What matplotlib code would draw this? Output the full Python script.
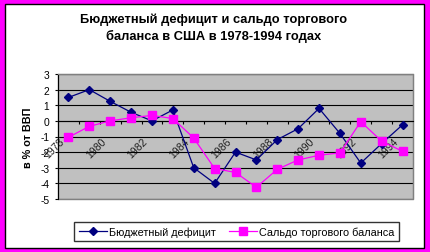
import matplotlib
matplotlib.use('Agg')
import matplotlib.pyplot as plt
from matplotlib.patches import Rectangle
from matplotlib.transforms import ScaledTranslation

plt.rcParams['font.family'] = ['Liberation Sans', 'DejaVu Sans']

years = list(range(1978, 1995))
budget_deficit = [1.5, 2.0, 1.25, 0.55, 0.0, 0.7, -3.0, -4.0, -2.0, -2.5,
                  -1.2, -0.5, 0.8, -0.8, -2.7, -1.45, -0.25]
trade_balance = [-1.05, -0.35, 0.0, 0.2, 0.35, 0.15, -1.1, -3.05, -3.3, -4.25,
                 -3.1, -2.5, -2.2, -2.05, -0.05, -1.3, -1.95]
label_years = list(range(1978, 1995, 2))
y_ticks = list(range(-5, 4))

W, H = 430, 253
fig = plt.figure(figsize=(W / 100, H / 100), dpi=100)
fig.patch.set_facecolor('#FF00FF')
fig.add_artist(Rectangle((5 / W, 4 / H), 419 / W, 244 / H, transform=fig.transFigure,
                         facecolor='white', edgecolor='black', lw=1, zorder=-1))

ax = fig.add_axes([58 / W, 1 - 200 / H, 355 / W, 125 / H])
ax.set_facecolor('#C0C0C0')

ax.plot(years, budget_deficit, color='#000080', lw=0.9, marker='D', ms=4.2,
        label='Бюджетный дефицит', zorder=3)
ax.plot(years, trade_balance, color='#FF00FF', lw=0.9, marker='s', ms=5.5,
        label='Сальдо торгового баланса', zorder=3)

ax.set_xlim(1977.5, 1994.5)
ax.set_ylim(-5, 3)
ax.set_yticks(y_ticks)
ax.set_yticklabels([str(v) for v in y_ticks])
ax.yaxis.grid(True, color='black', lw=0.8)
ax.set_axisbelow(True)

# border of the plot area
for s in ['top', 'right']:
    ax.spines[s].set_color('#808080')
ax.spines['left'].set_color('black')
ax.spines['left'].set_linewidth(0.8)
ax.add_patch(Rectangle((0, 0), 1, 1, transform=ax.transAxes, fill=False,
                       edgecolor='#808080', lw=1, clip_on=False, zorder=1))

# category axis crosses at zero
ax.spines['bottom'].set_position(('data', 0))
ax.spines['bottom'].set_color('black')
ax.spines['bottom'].set_linewidth(0.8)
ax.set_xticks(label_years)
ax.set_xticklabels([str(y) for y in label_years], rotation=45, ha='right',
                   va='center', rotation_mode='anchor', fontsize=7.5, color='#202020')
ax.set_xticks([y + 0.5 for y in years[:-1]], minor=True)
ax.tick_params(axis='x', which='major', length=0, pad=13)
ax.tick_params(axis='x', which='minor', length=2, width=0.8, direction='out', color='black')
ax.tick_params(axis='y', length=2.2, width=0.8, labelsize=7.4, pad=4)
shift = ScaledTranslation(-6 / 100, 0, fig.dpi_scale_trans)
for lbl in ax.get_xticklabels():
    lbl.set_transform(lbl.get_transform() + shift)

ax.set_ylabel('в % от ВВП', fontsize=7.8, fontweight='bold', labelpad=5)

fig.text(214 / W, 1 - 28.5 / H, 'Бюджетный дефицит и сальдо торгового\nбаланса в США в 1978-1994 годах',
         ha='center', va='center', fontsize=9.3, fontweight='bold', linespacing=1.35)

leg = fig.legend(loc='center', bbox_to_anchor=(236.5 / W, 1 - 232.5 / H), ncol=2,
                 fontsize=7.8, frameon=True, fancybox=False, edgecolor='black',
                 borderpad=0.4, handlelength=2.6, handletextpad=0.2, columnspacing=1.2,
                 borderaxespad=0)
leg.get_frame().set_linewidth(1)

fig.savefig('out.png', dpi=100, facecolor=fig.get_facecolor())
